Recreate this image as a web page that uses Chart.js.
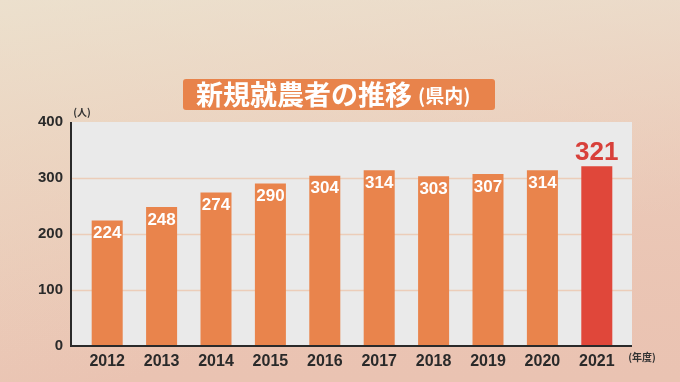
<!DOCTYPE html>
<html>
<head>
<meta charset="utf-8">
<script src="https://cdn.jsdelivr.net/npm/chart.js@4"></script>
<style>
  html, body { margin: 0; padding: 0; }
  body { width: 680px; height: 382px; overflow: hidden; }
  #wrap { width: 680px; height: 382px; position: relative; }
</style>
</head>
<body>
<div id="wrap"><canvas id="myChart"></canvas></div>
<script>
  const years = ['2012', '2013', '2014', '2015', '2016', '2017', '2018', '2019', '2020', '2021'];
  const farmers = [224, 248, 274, 290, 304, 314, 303, 307, 314, 321];
  const yTicks = [0, 100, 200, 300, 400];
  const title = '新規就農者の推移';
  const titleSub = '(県内)';

  const jp = "'Noto Sans CJK JP', sans-serif";
  const num = "'Liberation Sans', Arial, sans-serif";
  const barColors = farmers.map((v, i) => i === farmers.length - 1 ? '#e0473a' : '#e9844c');

  // plot frame is a bit wider than the category scale
  const frameLeft = 71, frameRight = 632;

  const decor = {
    id: 'decor',
    beforeDraw(chart) {
      const c = chart.ctx, a = chart.chartArea;
      c.save();
      const g = c.createLinearGradient(0, 0, 120, 382);
      g.addColorStop(0, '#ecddc6');
      g.addColorStop(1, '#eac3b2');
      c.fillStyle = g;
      c.fillRect(0, 0, chart.width, chart.height);
      const g2 = c.createLinearGradient(680, 0, 680, 382);
      g2.addColorStop(0, 'rgba(236,226,210,0.6)');
      g2.addColorStop(1, 'rgba(236,200,182,0)');
      c.fillStyle = g2;
      c.fillRect(0, 0, chart.width, chart.height);
      c.fillStyle = '#eaeaea';
      c.fillRect(frameLeft, a.top, frameRight - frameLeft, a.bottom - a.top);

      // gridlines across the whole frame
      const y = chart.scales.y;
      c.strokeStyle = '#eccdb9';
      c.lineWidth = 1.5;
      yTicks.slice(1, -1).forEach(v => {
        const py = Math.round(y.getPixelForValue(v)) + 0.5;
        c.beginPath();
        c.moveTo(frameLeft, py);
        c.lineTo(frameRight, py);
        c.stroke();
      });

      // title box
      c.fillStyle = '#e8834b';
      c.beginPath();
      c.roundRect(183, 79, 312, 31, 3);
      c.fill();
      c.fillStyle = '#ffffff';
      c.textBaseline = 'middle';
      c.textAlign = 'left';
      c.font = "bold 27px " + jp;
      c.fillText(title, 196, 95);
      const w = c.measureText(title).width;
      c.font = "bold 19px " + jp;
      c.fillText(titleSub, 196 + w + 6, 96);
      c.restore();
    },
    afterDraw(chart) {
      const c = chart.ctx, a = chart.chartArea;
      const meta = chart.getDatasetMeta(0);
      c.save();
      c.textAlign = 'center';
      c.textBaseline = 'middle';
      meta.data.forEach((bar, i) => {
        if (i === farmers.length - 1) {
          c.fillStyle = '#d8403a';
          c.font = "bold 26px " + num;
          c.fillText(String(farmers[i]), bar.x, bar.y - 13);
        } else {
          c.fillStyle = '#ffffff';
          c.font = "bold 17px " + num;
          c.fillText(String(farmers[i]), bar.x, bar.y + 13);
        }
      });
      c.fillStyle = '#333';
      c.font = "bold 10px " + jp;
      c.fillText('(人)', 82, 112);
      c.fillText('(年度)', 642, 357);
      // axis lines
      c.strokeStyle = '#2a2a2a';
      c.lineWidth = 2;
      c.beginPath();
      c.moveTo(frameLeft, a.top);
      c.lineTo(frameLeft, a.bottom);
      c.lineTo(frameRight, a.bottom);
      c.stroke();
      c.restore();
    }
  };

  new Chart(document.getElementById('myChart'), {
    type: 'bar',
    data: {
      labels: years,
      datasets: [{
        data: farmers,
        backgroundColor: barColors,
        borderWidth: 0,
        categoryPercentage: 1,
        barPercentage: 0.57
      }]
    },
    options: {
      responsive: true,
      maintainAspectRatio: false,
      animation: false,
      layout: { padding: { left: 0, top: 122, right: 56, bottom: 0 } },
      plugins: { legend: { display: false }, tooltip: { enabled: false } },
      scales: {
        x: {
          grid: { display: false },
          border: { display: false },
          ticks: { color: '#2a2a2a', font: { family: num, size: 16, weight: 'bold' }, padding: -2 },
          afterFit: s => { s.height = 36; }
        },
        y: {
          min: 0,
          max: 400,
          afterBuildTicks: s => { s.ticks = yTicks.map(v => ({ value: v })); },
          grid: { display: false },
          border: { display: false },
          ticks: { color: '#2a2a2a', font: { family: num, size: 15, weight: 'bold' }, padding: 9 },
          afterFit: s => { s.width = 80; }
        }
      }
    },
    plugins: [decor]
  });
</script>
</body>
</html>
